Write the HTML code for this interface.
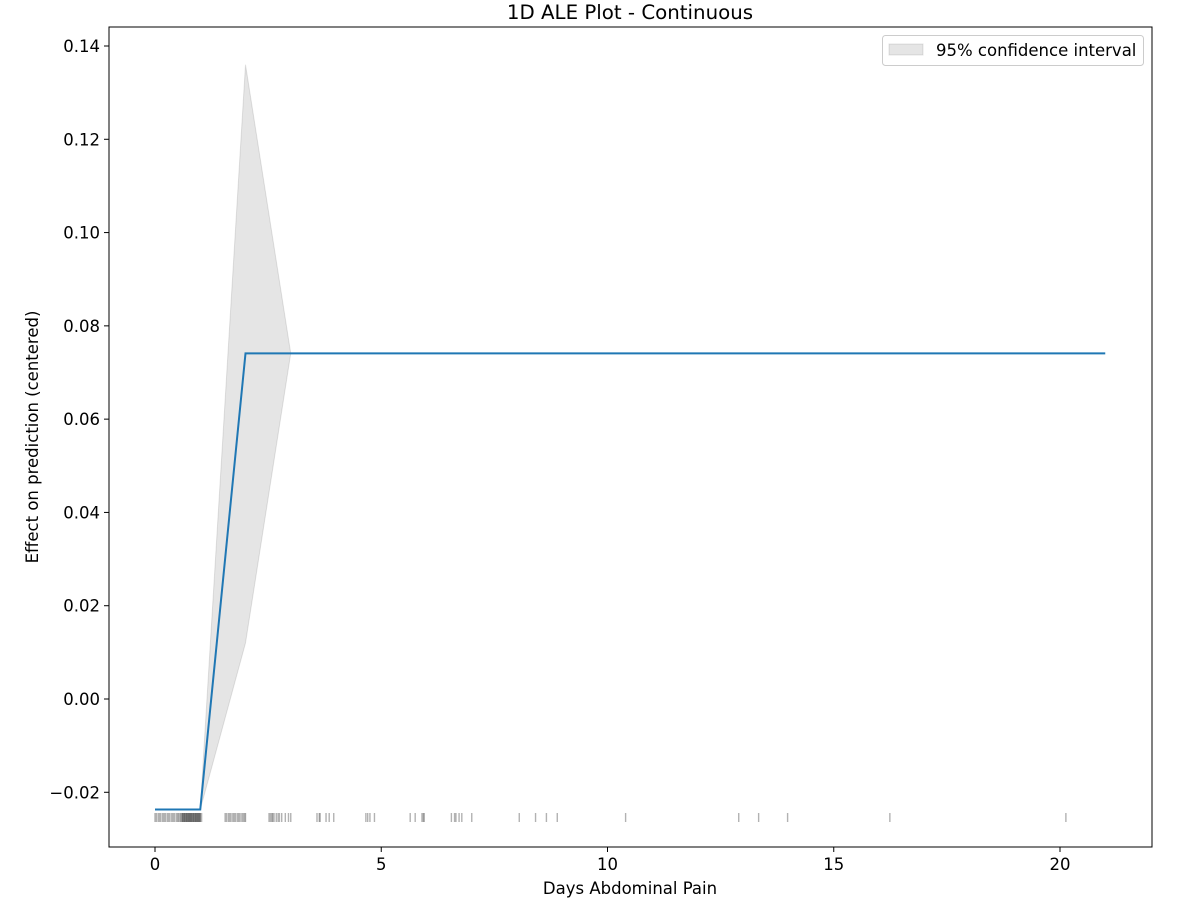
<!DOCTYPE html>
<html><head><meta charset="utf-8"><style>
html,body{margin:0;padding:0;background:#fff;}
svg{display:block;font-family:"DejaVu Sans","Liberation Sans",sans-serif;}
</style></head><body>
<svg id="chart" width="1200" height="901"></svg>
<script>
const lineX = [0, 1, 2, 21];
const lineY = [-0.0237, -0.0237, 0.0741, 0.0741];
const ciX = [0, 1, 2, 3];
const ciUpper = [-0.0237, -0.0237, 0.136, 0.0741];
const ciLower = [-0.0237, -0.0237, 0.012, 0.0741];
const rugValues = [0,0.03,0.07,0.1,0.13,0.17,0.2,0.23,0.27,0.3,0.33,0.37,0.4,0.43,0.47,0.5,0.52,0.55,0.57,0.6,0.6,0.62,0.63,0.65,0.65,0.67,0.68,0.7,0.7,0.72,0.73,0.75,0.75,0.77,0.78,0.8,0.8,0.82,0.83,0.85,0.85,0.87,0.88,0.9,0.9,0.92,0.93,0.95,0.95,0.97,0.98,1.0,1.0,1.03,
1.55,1.58,1.62,1.65,1.68,1.72,1.75,1.78,1.82,1.85,1.88,1.92,1.95,1.98,2.0,
2.52,2.55,2.58,2.6,2.63,2.68,2.72,2.75,2.8,2.88,2.95,3.0,
3.58,3.63,3.65,3.78,3.85,3.95,
4.66,4.7,4.75,4.85,
5.64,5.75,5.9,5.93,5.95,
6.55,6.62,6.65,6.72,6.78,7.0,
8.05,8.41,8.65,8.89,10.4,12.9,13.34,13.98,16.24,20.13];
const xTicks = [0, 5, 10, 15, 20];
const yTicks = [-0.02, 0.00, 0.02, 0.04, 0.06, 0.08, 0.10, 0.12, 0.14];
const yTickLabels = ["\u22120.02","0.00","0.02","0.04","0.06","0.08","0.10","0.12","0.14"];

const L=109,R=1152,T=27,B=847;
const xs = v => 155 + v*(1060-155)/20;
const ys = v => 699 - v*(699-46)/0.14;
const svg = document.getElementById('chart');
const NS='http://www.w3.org/2000/svg';
function mk(tag, attrs, parent){const e=document.createElementNS(NS,tag);for(const k in attrs)e.setAttribute(k,attrs[k]);(parent||svg).appendChild(e);return e;}

let pts=[];
for(let i=0;i<ciX.length;i++)pts.push(xs(ciX[i])+','+ys(ciUpper[i]));
for(let i=ciX.length-1;i>=0;i--)pts.push(xs(ciX[i])+','+ys(ciLower[i]));
const band=mk('polygon',{points:pts.join(' '),fill:'#000','fill-opacity':0.1,stroke:'#000','stroke-opacity':0.1,'stroke-width':1});



const line=mk('polyline',{points:lineX.map((v,i)=>xs(v)+','+ys(lineY[i])).join(' '),fill:'none',stroke:'#1f77b4','stroke-width':2});



const rug=mk('g',{});


rugValues.forEach(v=>{
  const t=mk('line',{x1:xs(v),x2:xs(v),y1:813,y2:822,stroke:'#000','stroke-opacity':0.3,'stroke-width':1.4},rug);
  
  
});

const frame=mk('rect',{x:L,y:T,width:R-L,height:B-T,fill:'none',stroke:'#000','stroke-width':1});



xTicks.forEach(v=>{
  const x=xs(v);
  mk('line',{x1:x,x2:x,y1:B,y2:B+5,stroke:'#000'});
  const t=mk('text',{x:x,y:B+23,'text-anchor':'middle','font-size':16.5});
  t.textContent=v;
  
  
});
yTicks.forEach((v,i)=>{
  const y=ys(v);
  mk('line',{x1:L-5,x2:L,y1:y,y2:y,stroke:'#000'});
  const t=mk('text',{x:L-9,y:y+6,'text-anchor':'end','font-size':16.5});
  t.textContent=yTickLabels[i];
  
  
});

const title=mk('text',{x:630,y:19,'text-anchor':'middle','font-size':19.8});
title.textContent='1D ALE Plot - Continuous';


const xl=mk('text',{x:630,y:894,'text-anchor':'middle','font-size':16.5});
xl.textContent='Days Abdominal Pain';


const yl=mk('text',{x:0,y:0,'text-anchor':'middle','font-size':16.5,transform:'translate(38,437) rotate(-90)'});
yl.textContent='Effect on prediction (centered)';



const lg=mk('g',{});


mk('rect',{x:882.5,y:35.5,width:261,height:30,rx:3,fill:'#fff','fill-opacity':0.8,stroke:'#ccc'},lg);
mk('rect',{x:889,y:44,width:34,height:11,fill:'#000','fill-opacity':0.1,stroke:'#000','stroke-opacity':0.1},lg);
const lt=mk('text',{x:936,y:56,'font-size':16.5},lg);
lt.textContent='95% confidence interval';


</script>
</body></html>
